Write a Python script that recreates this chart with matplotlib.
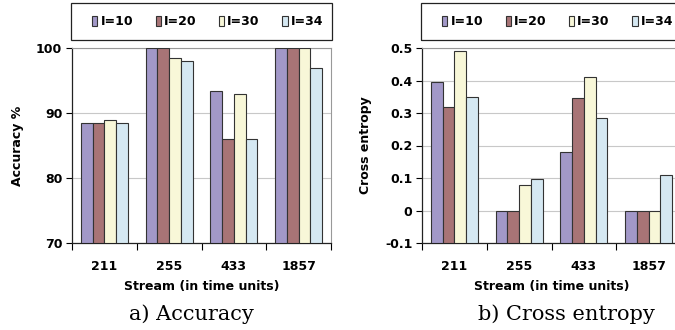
import numpy as np
import matplotlib
matplotlib.use("Agg")
import matplotlib.pyplot as plt
from matplotlib.patches import Rectangle

# data
streams = ["211", "255", "433", "1857"]
series = ["I=10", "I=20", "I=30", "I=34"]
accuracy = [
    [88.4, 100, 93.4, 100],
    [88.4, 100, 86.0, 100],
    [89.0, 98.4, 93.0, 100],
    [88.4, 98.0, 86.0, 97.0],
]
entropy = [
    [0.395, 0.0, 0.18, 0.0],
    [0.32, 0.0, 0.345, 0.0],
    [0.49, 0.077, 0.41, 0.0],
    [0.348, 0.097, 0.285, 0.108],
]
colors = ["#A298C8", "#A87476", "#F8F7D8", "#D5E8F2"]

plt.rcParams["font.family"] = ["DejaVu Sans"]
W, H = 675, 330
fig = plt.figure(figsize=(6.75, 3.30), dpi=100)

FS = 9


def draw_panel(x0, data, ymin, ymax, yticks, yfmt, ylabel, caption, cap_x):
    ax = fig.add_axes([x0 / W, (H - 243) / H, 259 / W, 195 / H])
    x = np.arange(len(streams))
    w = 0.1815
    for i, vals in enumerate(data):
        vals = np.array(vals)
        ax.bar(x + (i - 1.5) * w, vals - ymin, bottom=ymin, width=w,
               color=colors[i], edgecolor="#333333", linewidth=0.8,
               label=series[i], zorder=3)
    ax.set_xlim(-0.5, len(streams) - 0.5)
    ax.set_ylim(ymin, ymax)
    ax.set_yticks(yticks)
    ax.set_yticklabels([yfmt(t) for t in yticks], fontsize=FS, fontweight="bold")
    ax.set_xticks(x)
    ax.set_xticklabels(streams, fontsize=FS, fontweight="bold")
    ax.set_xticks(np.arange(len(streams) + 1) - 0.5, minor=True)
    ax.tick_params(axis="x", which="major", length=0, pad=12)
    ax.tick_params(axis="x", which="minor", length=5, direction="out", width=0.8)
    ax.tick_params(axis="y", length=4, direction="out", width=0.8, pad=3)
    ax.grid(axis="y", color="#C8C8C8", linewidth=0.8, zorder=0)
    for s in ["left", "bottom"]:
        ax.spines[s].set_color("#222222")
        ax.spines[s].set_linewidth(0.9)
    for s in ["top", "right"]:
        ax.spines[s].set_color("#999999")
        ax.spines[s].set_linewidth(0.8)
    ax.set_xlabel("Stream (in time units)", fontsize=FS, fontweight="bold", labelpad=5)
    ax.set_ylabel(ylabel, fontsize=FS, fontweight="bold", labelpad=9)
    ax.set_axisbelow(True)

    # legend box above the plot
    fig.patches.append(Rectangle(((x0 - 1) / W, (H - 40) / H), 261 / W, 37 / H,
                                 transform=fig.transFigure, fill=False,
                                 edgecolor="#222222", linewidth=0.9))
    handles, labels = ax.get_legend_handles_labels()
    fig.legend(handles, labels, loc="center left",
               bbox_to_anchor=((x0 + 20) / W, (H - 21.5) / H), ncol=4,
               frameon=False, prop={"size": FS, "weight": "bold"},
               handlelength=0.42, handleheight=0.85, handletextpad=0.25,
               columnspacing=1.8, borderaxespad=0, borderpad=0)
    fig.text(cap_x / W, (H - 314) / H, caption, ha="center", va="center",
             fontsize=15, family=["DejaVu Serif"])
    return ax


draw_panel(72, accuracy, 70, 100, [70, 80, 90, 100], lambda t: f"{t:d}",
           "Accuracy %", "a) Accuracy", 191)
draw_panel(422, entropy, -0.1, 0.5, [-0.1, 0, 0.1, 0.2, 0.3, 0.4, 0.5],
           lambda t: "0" if abs(t) < 1e-9 else f"{t:.1f}",
           "Cross entropy", "b) Cross entropy", 566)

fig.savefig("out.png", dpi=100)
